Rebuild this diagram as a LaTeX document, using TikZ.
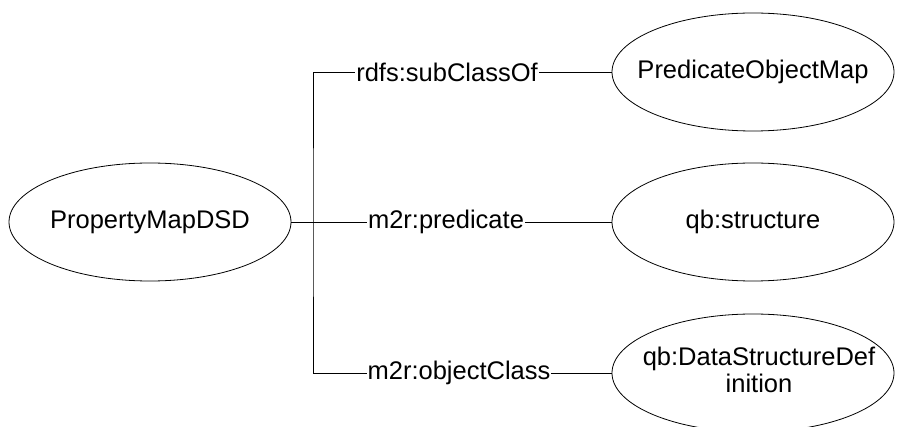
\documentclass[tikz,border=0pt]{standalone}
\usepackage{fontspec}
\setmainfont{Liberation Sans}
\usetikzlibrary{shapes.geometric}
\begin{document}
\begin{tikzpicture}[x=1pt,y=-1pt,
  every node/.style={font=\fontsize{25.5}{27}\selectfont},
  ent/.style={ellipse,draw,line width=0.8pt,minimum width=282pt,minimum height=118pt,inner sep=0pt},
  etxt/.style={align=center,inner sep=0pt},
  lbl/.style={fill=white,inner sep=1pt},
  conn/.style={line width=0.8pt}]
\useasboundingbox (0,0) rectangle (897,427);
\node[ent] (L) at (150,222) {};
\node[etxt] (Lt) at (L) {PropertyMapDSD};
\node[ent] (T) at (753,72) {};
\node[etxt] (Tt) at (T) {PredicateObjectMap};
\node[ent] (M) at (753,222) {};
\node[etxt] (Mt) at (M) {qb:structure};
\node[ent] (B) at (753,373) {};
\node[etxt] (Bt) at ([xshift=6pt,yshift=3pt]B.center) {qb:DataStructureDef\\inition};
\coordinate (J) at (313,222);
\draw[conn] (L.east) -- (M.west);
\draw[conn] (T.west) -| (J) |- (B.west);
\node[lbl] (l1) at (447,72) {rdfs:subClassOf};
\node[lbl] (l2) at (446,222) {m2r:predicate};
\node[lbl] (l3) at (459,373) {m2r:objectClass};
\end{tikzpicture}
\end{document}
